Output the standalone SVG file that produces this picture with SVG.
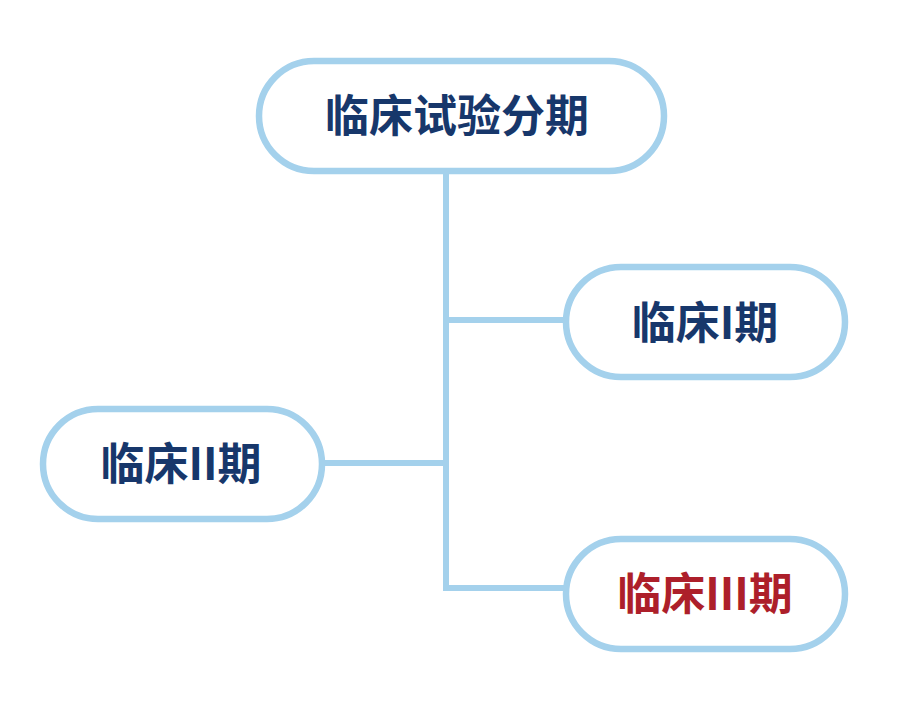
<svg xmlns="http://www.w3.org/2000/svg" width="900" height="716" viewBox="0 0 900 716">
<style>
.box{fill:#fff;stroke:#a4d1ec;stroke-width:6.5}
.ln{stroke:#a4d1ec;stroke-width:6;fill:none}
.t{font-family:"Noto Sans CJK SC","Noto Sans",sans-serif;font-weight:bold;font-size:44px;text-anchor:middle;dominant-baseline:central;fill:#17376b}
.red{fill:#ad1f2a}
</style>
<rect width="900" height="716" fill="#fff"/>
<g id="connectors">
<path class="ln" d="M446 174 V588"/>
<path class="ln" d="M446 320 H566"/>
<path class="ln" d="M324 463 H446"/>
<path class="ln" d="M443 588 H566"/>
</g>
<g id="n0"><rect class="box" x="259" y="61" width="405" height="110" rx="55"/><text class="t" x="457" y="113">临床试验分期</text></g>
<g id="n1"><rect class="box" x="566" y="267" width="279" height="110" rx="55"/><text class="t" x="705" y="320">临床I期</text></g>
<g id="n2"><rect class="box" x="43" y="409" width="279" height="110" rx="55"/><text class="t" x="181" y="461">临床II期</text></g>
<g id="n3"><rect class="box" x="566" y="539" width="279" height="110" rx="55"/><text class="t red" x="705" y="591">临床III期</text></g>
</svg>
